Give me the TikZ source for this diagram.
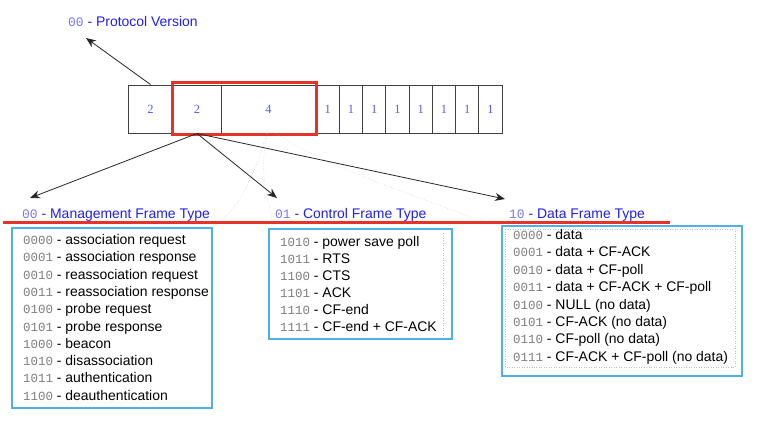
\documentclass[tikz,border=0pt]{standalone}
\usepackage{fontspec}
\setmainfont{Liberation Sans}
\setmonofont{Liberation Mono}
\newfontfamily\cellfont{Liberation Serif}
\usetikzlibrary{arrows.meta}
\definecolor{hdrblue}{RGB}{30,30,240}
\definecolor{codeblue}{RGB}{120,120,240}
\definecolor{cellblue}{RGB}{90,90,235}
\definecolor{codegray}{RGB}{125,125,125}
\definecolor{boxblue}{RGB}{80,175,235}
\definecolor{redmark}{RGB}{230,50,40}
\newcommand{\mycode}[1]{{\color{codegray}\fontsize{12.5}{14}\selectfont\ttfamily #1}}
\newcommand{\myhcode}[1]{{\color{codeblue}\fontsize{13}{14}\selectfont\ttfamily #1}}
\tikzset{
  cell/.style={draw=black!75, line width=1bp, minimum height=48bp, inner sep=0pt,
    font=\cellfont\fontsize{12.5}{14}\selectfont, text=cellblue},
  redbox/.style={draw=redmark, line width=3bp},
  redrule/.style={draw=redmark, line width=3bp},
  arr/.style={draw=black!85, line width=0.8bp, -{Stealth[length=10bp,width=8bp]}},
  faint/.style={draw=black!25, dotted, line width=0.5bp},
  listbox/.style={draw=boxblue, line width=2bp, inner sep=0pt},
  item/.style={anchor=base west, inner sep=0pt, font=\fontsize{14}{16}\selectfont, text=black},
  hdr/.style={anchor=base west, inner sep=0pt, font=\fontsize{14}{16}\selectfont, text=hdrblue},
}
\begin{document}
\begin{tikzpicture}[x=1bp,y=-1bp]
\useasboundingbox (0,0) rectangle (782,420);
% field cells
\node[cell, minimum width=45bp] (c1) at (150.5,109) {2};
\node[cell, minimum width=48bp] (c2) at (197,109) {2};
\node[cell, minimum width=95bp] (c3) at (268.5,109) {4};
\foreach \i in {1,...,8}{
  \pgfmathsetmacro{\xx}{316+23.25*(\i-0.5)}
  \node[cell, minimum width=23.25bp] (b\i) at (\xx,109) {1};
}
\draw[redbox] ([xshift=-0.5bp,yshift=2.5bp]c2.north west) rectangle ([yshift=-1bp]c3.south east);
% protocol version
\node[hdr] (pv) at (68,26.5) {\myhcode{00} - Protocol Version};
\coordinate (pvtip) at (86,38);
\draw[arr] (c1.north) -- (pvtip);
% faint dotted curves
\draw[faint] ([xshift=-2bp]c3.south) .. controls (255,175) and (240,205) .. (220,222);
\draw[faint] ([xshift=-1bp]c3.south) .. controls (258,170) and (268,200) .. (274,228);
\draw[faint] ([xshift=8bp]c3.south) .. controls (330,170) and (430,200) .. (483,222);
% arrows to headers
\coordinate (mtip) at (30,198);
\coordinate (ctip) at (277,198);
\coordinate (dtip) at (505,199);
\draw[arr] (c2.south) -- (mtip);
\draw[arr] (c2.south) -- (ctip);
\draw[arr] (c2.south) -- (dtip);
% headers
\node[hdr] (mh) at (22,218) {\myhcode{00} - Management Frame Type};
\node[hdr] (ch) at (275,218) {\myhcode{01} - Control Frame Type};
\node[hdr] (dh) at (509,218) {\myhcode{10} - Data Frame Type};
% red rule
\coordinate (r1) at (3,222);
\coordinate (r2) at (670,222);
\draw[redrule] (r1) -- (r2);
% boxes
\node[listbox, minimum width=200bp, minimum height=180bp] (mbox) at (112,318) {};
\node[listbox, minimum width=183bp, minimum height=110bp] (cbox) at (360.5,284) {};
\node[listbox, minimum width=240bp, minimum height=150bp] (dbox) at (622,301) {};
\draw[faint] (505,229) rectangle (735,367);
\draw[faint] (443,233) -- (443,336);
% management list
\foreach \c/\t [count=\i] in {0000/association request,0001/association response,0010/reassociation request,0011/reassociation response,0100/probe request,0101/probe response,1000/beacon,1010/disassociation,1011/authentication,1100/deauthentication}{
  \pgfmathsetmacro{\yy}{244.5+17.3*(\i-1)}
  \node[item] (m\i) at (23,\yy) {\mycode{\c} - \t};
}
% control list
\foreach \c/\t [count=\i] in {1010/power save poll,1011/RTS,1100/CTS,1101/ACK,1110/CF-end,1111/CF-end + CF-ACK}{
  \pgfmathsetmacro{\yy}{246.5+17*(\i-1)}
  \node[item] (k\i) at (280,\yy) {\mycode{\c} - \t};
}
% data list
\foreach \c/\t [count=\i] in {0000/data,0001/data + CF-ACK,0010/data + CF-poll,0011/data + CF-ACK + CF-poll,0100/NULL (no data),0101/CF-ACK (no data),0110/CF-poll (no data),0111/CF-ACK + CF-poll (no data)}{
  \pgfmathsetmacro{\yy}{239.5+17.4*(\i-1)}
  \node[item] (d\i) at (513,\yy) {\mycode{\c} - \t};
}
\end{tikzpicture}
\end{document}
